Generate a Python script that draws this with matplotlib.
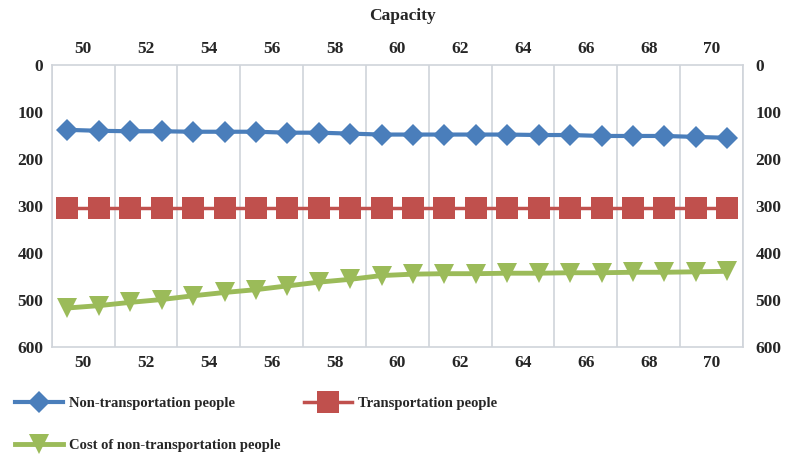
import matplotlib
matplotlib.use("Agg")
import matplotlib.pyplot as plt
from matplotlib.lines import Line2D

plt.rcParams['font.family'] = ['Liberation Serif', 'DejaVu Serif']

capacity = [50, 51, 52, 53, 54, 55, 56, 57, 58, 59, 60,
            61, 62, 63, 64, 65, 66, 67, 68, 69, 70, 71]
tick_labels = [50, 52, 54, 56, 58, 60, 62, 64, 66, 68, 70]
non_transport = [138, 140, 141, 141, 142, 142, 142, 144, 144, 146, 148,
                 148, 148, 148, 148, 149, 149, 151, 151, 151, 153, 155]
transport = [304, 304, 304, 304, 304, 304, 304, 304, 304, 304, 304,
             304, 304, 304, 304, 304, 304, 304, 304, 304, 304, 304]
cost_non_transport = [517, 512, 505, 499, 491, 484, 478, 470, 462, 456, 448,
                      445, 444, 444, 443, 443, 442, 442, 441, 441, 440, 439]
y_ticks = [0, 100, 200, 300, 400, 500, 600]

c_blue = "#4A7EBB"
c_red = "#C0504D"
c_green = "#9BBB59"
grid_c = "#D0D4DA"
txt_c = "#262626"
fs = 12.5

fig = plt.figure(figsize=(7.86, 4.59), dpi=100)
ax = fig.add_axes([0.0658, 0.244, 0.8795, 0.6144])

x = list(range(len(capacity)))
ax.plot(x, non_transport, color=c_blue, lw=3, marker="D", ms=11.5,
        markeredgewidth=0, zorder=3)
ax.plot(x, transport, color=c_red, lw=2.5, marker="s", ms=15.5,
        markeredgewidth=0, zorder=3)
ax.plot(x, cost_non_transport, color=c_green, lw=3.5, marker="v", ms=14,
        markeredgewidth=0, zorder=3)

ax.set_xlim(-0.5, len(capacity) - 0.5)
ax.set_ylim(600, 0)
# grid lines between pairs of categories
for k in range(0, len(capacity) + 1, 2):
    ax.axvline(k - 0.5, color=grid_c, lw=1.2, zorder=1)

tick_pos = [capacity.index(v) + 0.5 for v in tick_labels]
ax.set_xticks(tick_pos)
ax.set_xticklabels([str(v) for v in tick_labels])
ax.tick_params(axis="x", length=0, labeltop=True, labelbottom=True, pad=6,
               labelsize=fs, labelcolor=txt_c)
ax.tick_params(axis="x", which="major", top=False)
ax.set_yticks(y_ticks)
ax.set_yticklabels([str(v) for v in y_ticks])
ax.tick_params(axis="y", length=0, pad=6, labelsize=fs, labelcolor=txt_c)
for lab in ax.get_xticklabels() + ax.get_yticklabels():
    lab.set_fontweight("bold")
for s in ax.spines.values():
    s.set_color(grid_c)
    s.set_linewidth(1.2)

ax2 = ax.twinx()
ax2.set_ylim(600, 0)
ax2.set_yticks(y_ticks)
ax2.set_yticklabels([str(v) for v in y_ticks])
ax2.tick_params(axis="y", length=0, pad=9, labelsize=fs, labelcolor=txt_c)
for lab in ax2.get_yticklabels():
    lab.set_fontweight("bold")
for s in ax2.spines.values():
    s.set_visible(False)

fig.text(0.512, 0.965, "Capacity", ha="center", va="center",
         fontsize=fs, fontweight="bold", color=txt_c)

handles = [
    Line2D([], [], color=c_blue, lw=3, marker="D", ms=11.5, markeredgewidth=0),
    Line2D([], [], color=c_green, lw=3.5, marker="v", ms=14, markeredgewidth=0),
    Line2D([], [], color=c_red, lw=2.5, marker="s", ms=15.5, markeredgewidth=0),
]
labels = ["Non-transportation people", "Cost of non-transportation people",
          "Transportation people"]
leg = fig.legend(handles, labels, ncol=2, loc="upper left",
                 bbox_to_anchor=(0.012, 0.148), frameon=False,
                 fontsize=10.5, handlelength=3.3, handletextpad=0.4,
                 columnspacing=1.6, labelspacing=2.0, borderaxespad=0)
for t in leg.get_texts():
    t.set_fontweight("bold")
    t.set_color(txt_c)

fig.savefig("out.png", dpi=100)
